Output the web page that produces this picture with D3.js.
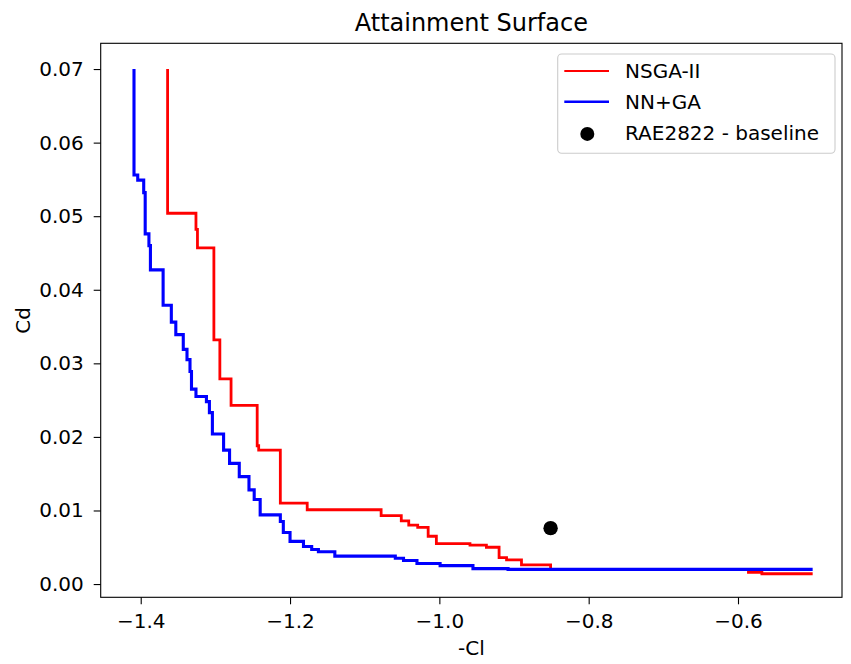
<!DOCTYPE html>
<html>
	<head>
		<title>Attainment Surface</title>
		<meta charset="utf-8" />
		<script src="https://d3js.org/d3.v7.min.js"></script>
		<style>
            body {
                margin: 0;
                background-color: white;
            }

            svg {
                display: block;
                font-family: "DejaVu Sans", sans-serif;
            }

            .tick line {
                stroke: black;
                stroke-width: 1.1px;
            }

            .tick text {
                font-size: 20px;
                fill: black;
            }
        </style>
	</head>
	<body>
        <div id="holder"></div>

        <script>
            //Data
            const nsgaCl = [-1.364, -1.326, -1.324, -1.302, -1.294, -1.279, -1.244, -1.242, -1.213, -1.177,
                            -1.078, -1.051, -1.041, -1.029, -1.015, -1.004, -0.959, -0.937, -0.920, -0.910,
                            -0.890, -0.851, -0.586, -0.568, -0.500];
            const nsgaCd = [0.0700, 0.0504, 0.0482, 0.0457, 0.0332, 0.0279, 0.0243, 0.0188, 0.0182, 0.0110,
                            0.0101, 0.0093, 0.0086, 0.0080, 0.0077, 0.0065, 0.0055, 0.0053, 0.0050, 0.0036,
                            0.0033, 0.0026, 0.0020, 0.0016, 0.0014];

            const nnCl = [-1.409, -1.404, -1.396, -1.394, -1.389, -1.387, -1.370, -1.359, -1.353, -1.343,
                          -1.338, -1.334, -1.332, -1.326, -1.312, -1.308, -1.304, -1.289, -1.281, -1.268,
                          -1.255, -1.248, -1.240, -1.213, -1.209, -1.200, -1.182, -1.171, -1.162, -1.140,
                          -1.059, -1.048, -1.030, -0.999, -0.955, -0.908, -0.500];
            const nnCd = [0.0700, 0.0556, 0.0549, 0.0532, 0.0476, 0.0460, 0.0427, 0.0379, 0.0356, 0.0339,
                          0.0319, 0.0305, 0.0289, 0.0265, 0.0255, 0.0248, 0.0233, 0.0204, 0.0182, 0.0164,
                          0.0146, 0.0128, 0.0115, 0.0094, 0.0085, 0.0070, 0.0058, 0.0051, 0.0047, 0.0044,
                          0.0038, 0.0035, 0.0032, 0.0028, 0.0025, 0.0021, 0.0020];

            const baselineCl = [-0.851];
            const baselineCd = [0.0076];

            const xTicks = [-1.4, -1.2, -1.0, -0.8, -0.6];
            const yTicks = [0.00, 0.01, 0.02, 0.03, 0.04, 0.05, 0.06, 0.07];

            const seriesNames = ["NSGA-II", "NN+GA", "RAE2822 - baseline"];

            //Variables
            const w = 851;
            const h = 664;
            const plotLeft = 100.7, plotRight = 842, plotTop = 43.3, plotBottom = 597.3;

            let nsga = nsgaCl.map((d, i) => [d, nsgaCd[i]]);
            let nn = nnCl.map((d, i) => [d, nnCd[i]]);
            let base = baselineCl.map((d, i) => [d, baselineCd[i]]);

            let xScale = d3.scaleLinear()
                .domain([-1.4536, -0.4607])
                .range([plotLeft, plotRight]);

            let yScale = d3.scaleLinear()
                .domain([-0.0018, 0.0735])
                .range([plotBottom, plotTop]);

            let svg = d3.select("#holder")
                .append("svg")
                .attr("width", w)
                .attr("height", h);

            //Lines
            let line = d3.line()
                .x(d => xScale(d[0]))
                .y(d => yScale(d[1]))
                .curve(d3.curveStepBefore);

            svg.append("path")
                .datum(nsga)
                .attr("d", line)
                .attr("fill", "none")
                .attr("stroke", "#ff0000")
                .attr("stroke-width", 2.8);

            svg.append("path")
                .datum(nn)
                .attr("d", line)
                .attr("fill", "none")
                .attr("stroke", "#0000ff")
                .attr("stroke-width", 3.1);

            svg.selectAll(".dot")
                .data(base)
                .enter()
                .append("circle")
                .attr("class", "dot")
                .attr("cx", d => xScale(d[0]))
                .attr("cy", d => yScale(d[1]))
                .attr("r", 7.2)
                .style("fill", "black");

            //Axes
            const xAxis = d3.axisBottom(xScale)
                .tickValues(xTicks)
                .tickFormat(d3.format(".1f"))
                .tickSize(7)
                .tickPadding(10);
            svg.append("g")
                .attr("transform", "translate(0," + plotBottom + ")")
                .attr("id", "x-axis")
                .call(xAxis)
                .call(g => g.select(".domain").remove());

            const yAxis = d3.axisLeft(yScale)
                .tickValues(yTicks)
                .tickFormat(d3.format(".2f"))
                .tickSize(7)
                .tickPadding(10);
            svg.append("g")
                .attr("transform", "translate(" + plotLeft + ",0)")
                .attr("id", "y-axis")
                .call(yAxis)
                .call(g => g.select(".domain").remove());

            svg.selectAll(".tick text").attr("font-family", "DejaVu Sans");

            //Frame
            svg.append("rect")
                .attr("x", plotLeft)
                .attr("y", plotTop)
                .attr("width", plotRight - plotLeft)
                .attr("height", plotBottom - plotTop)
                .attr("fill", "none")
                .attr("stroke", "black")
                .attr("stroke-width", 1.1);

            //Title and labels
            svg.append("text")
                .attr("x", (plotLeft + plotRight) / 2)
                .attr("y", 30.5)
                .attr("text-anchor", "middle")
                .style("font-size", "24px")
                .text("Attainment Surface");

            svg.append("text")
                .attr("x", (plotLeft + plotRight) / 2)
                .attr("y", 655)
                .attr("text-anchor", "middle")
                .style("font-size", "20px")
                .text("-Cl");

            svg.append("text")
                .attr("transform", "translate(30," + ((plotTop + plotBottom) / 2) + ") rotate(-90)")
                .attr("text-anchor", "middle")
                .style("font-size", "20px")
                .text("Cd");

            //Legend
            let legend = svg.append("g").attr("id", "legend");
            legend.append("rect")
                .attr("x", 557.7)
                .attr("y", 54)
                .attr("width", 277.3)
                .attr("height", 99.3)
                .attr("rx", 4)
                .attr("fill", "white")
                .attr("fill-opacity", 0.8)
                .attr("stroke", "#cccccc")
                .attr("stroke-width", 1.1);

            const rowY = [71, 101.7, 132.4];
            const colors = ["#ff0000", "#0000ff", "black"];
            const widths = [2.2, 2.6];
            seriesNames.forEach((name, i) => {
                if (i < 2) {
                    legend.append("line")
                        .attr("x1", 564.3)
                        .attr("x2", 609)
                        .attr("y1", rowY[i])
                        .attr("y2", rowY[i])
                        .attr("stroke", colors[i])
                        .attr("stroke-width", widths[i]);
                } else {
                    legend.append("circle")
                        .attr("cx", 587.3)
                        .attr("cy", rowY[i] + 1.5)
                        .attr("r", 7)
                        .attr("fill", colors[i]);
                }
                legend.append("text")
                    .attr("x", 625)
                    .attr("y", rowY[i] + 7.3)
                    .style("font-size", "20px")
                    .text(name);
            });
        </script>
	</body>
</html>
